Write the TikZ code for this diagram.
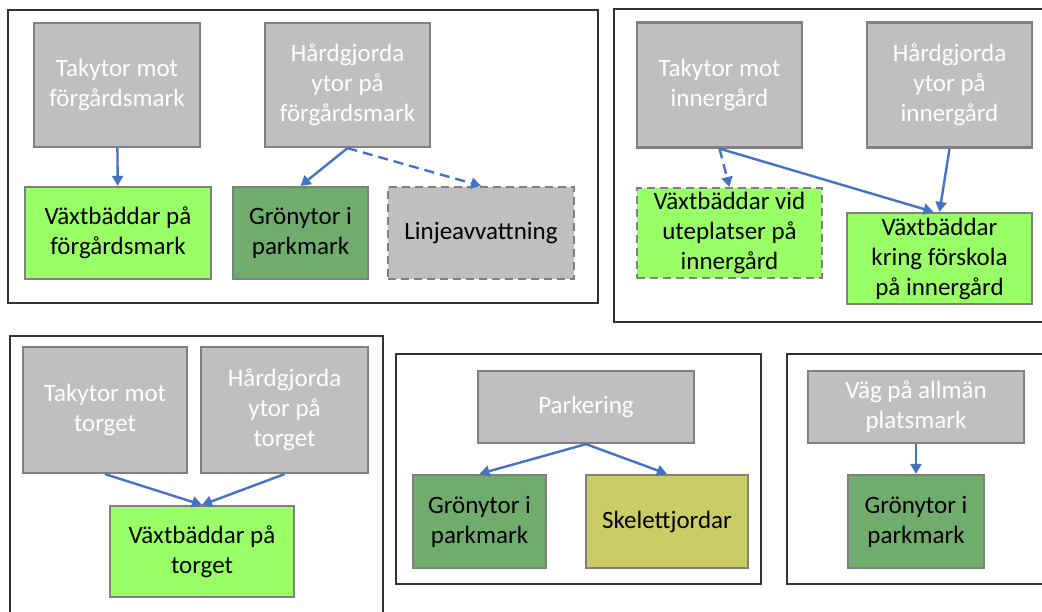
\documentclass[tikz,border=0pt]{standalone}
\usepackage{fontspec}
\setmainfont{Carlito}
\usetikzlibrary{arrows.meta,positioning}
\definecolor{yg}{RGB}{191,191,191}
\definecolor{bd}{RGB}{128,128,128}
\definecolor{lg}{RGB}{153,255,102}
\definecolor{mg}{RGB}{112,173,108}
\definecolor{sk}{RGB}{204,204,102}
\definecolor{pil}{RGB}{68,114,196}
\tikzset{
    blk/.style={rectangle,draw=bd,line width=2.2pt,fill=#1,font=\fontsize{25}{30}\selectfont,align=center,inner sep=0pt},
    kblk/.style={blk=yg,text=white},
    sdash/.style={dash pattern=on 8pt off 5pt},
    parr/.style={-{Triangle[length=10pt,width=11pt]},line width=2.4pt,pil},
    ram/.style={draw=black!80,line width=2pt},
}
\begin{document}
\begin{tikzpicture}[x=1pt,y=-1pt]
\useasboundingbox (0,0) rectangle (1042,611);
% ramar
\draw[ram] (8,10) rectangle (598,303);
\draw[ram] (614,9) rectangle (1050,322);
\draw[ram] (10,336) rectangle (383,620);
\draw[ram] (396,354) rectangle (761,584);
\draw[ram] (787,354) rectangle (1050,584);
% forgardsmark
\node[kblk,minimum width=166pt,minimum height=124pt] (tf) at (117,85) {Takytor mot\\förgårdsmark};
\node[kblk,minimum width=165pt,minimum height=124pt] (hf) at (347.5,85) {Hårdgjorda\\ytor på\\förgårdsmark};
\node[blk=lg,minimum width=186pt,minimum height=92pt] (vf) at (118,233) {Växtbäddar på\\förgårdsmark};
\node[blk=mg,minimum width=135pt,minimum height=92pt] (gf) at (300.5,233) {Grönytor i\\parkmark};
\node[blk=yg,sdash,minimum width=186pt,minimum height=92pt] (lf) at (481,233) {Linjeavvattning};
% innergard
\node[kblk,minimum width=165pt,minimum height=125pt] (ti) at (719.5,85) {Takytor mot\\innergård};
\node[kblk,minimum width=165pt,minimum height=125pt] (hi) at (949.5,85) {Hårdgjorda\\ytor på\\innergård};
\node[blk=lg,sdash,minimum width=185pt,minimum height=90pt] (ui) at (729.5,233) {Växtbäddar vid\\uteplatser på\\innergård};
\node[blk=lg,minimum width=185pt,minimum height=91pt] (ki) at (939.5,258.5) {Växtbäddar\\kring förskola\\på innergård};
% torget
\node[kblk,minimum width=164pt,minimum height=126pt] (tt) at (105,410) {Takytor mot\\torget};
\node[kblk,minimum width=167pt,minimum height=126pt] (ht) at (284.5,410) {Hårdgjorda\\ytor på\\torget};
\node[blk=lg,minimum width=184pt,minimum height=91pt] (vt) at (202,551.5) {Växtbäddar på\\torget};
% parkering
\node[kblk,minimum width=216pt,minimum height=72pt] (pk) at (586,407) {Parkering};
\node[blk=mg,minimum width=133pt,minimum height=93pt] (gp) at (479.5,521.5) {Grönytor i\\parkmark};
\node[blk=sk,minimum width=162pt,minimum height=93pt] (sj) at (667,521.5) {Skelettjordar};
% allman platsmark
\node[kblk,minimum width=216pt,minimum height=72pt] (vg) at (916,407) {Väg på allmän\\platsmark};
\node[blk=mg,minimum width=136pt,minimum height=93pt] (ga) at (916,521.5) {Grönytor i\\parkmark};
\draw[parr] (tf) -- (vf); \draw[parr] (hf.south) -- (gf.north); \draw[parr,dash pattern=on 10pt off 6pt] (hf.south) -- (lf.north);
\draw[parr,dash pattern=on 10pt off 6pt] (ti.south) -- (ui.north); \draw[parr] (ti.south) -- ([xshift=-6pt]ki.north); \draw[parr] (hi.south) -- (ki.north);
\draw[parr] (tt.south) -- (vt.north); \draw[parr] (ht.south) -- (vt.north);
\draw[parr] (pk.south) -- (gp.north); \draw[parr] (pk.south) -- (sj.north);
\draw[parr] (vg) -- (ga);
\end{tikzpicture}
\end{document}
